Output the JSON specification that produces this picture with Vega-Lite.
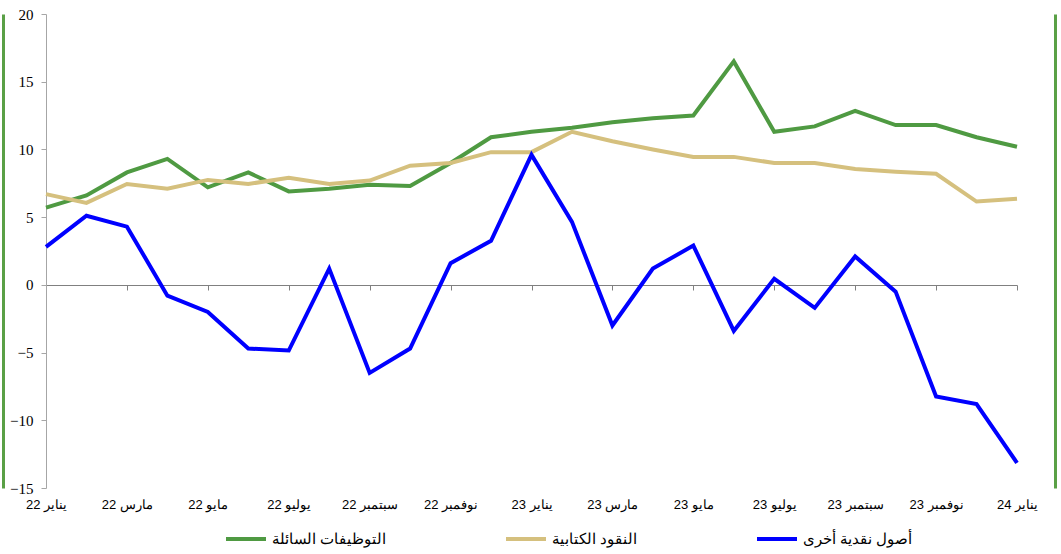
{
  "$schema": "https://vega.github.io/schema/vega-lite/v6.json",
  "width": 971,
  "height": 474,
  "autosize": {"type": "none"},
  "padding": {"left": 46, "top": 14, "right": 44, "bottom": 66},
  "background": "white",
  "config": {"view": {"stroke": null}, "font": "Liberation Serif"},
  "data": {
    "values": [
      {"i": 0, "m": "يناير 22", "التوظيفات السائلة": 5.7, "النقود الكتابية": 6.7, "أصول نقدية أخرى": 2.8},
      {"i": 1, "m": "فبراير 22", "التوظيفات السائلة": 6.6, "النقود الكتابية": 6.05, "أصول نقدية أخرى": 5.1},
      {"i": 2, "m": "مارس 22", "التوظيفات السائلة": 8.3, "النقود الكتابية": 7.45, "أصول نقدية أخرى": 4.3},
      {"i": 3, "m": "أبريل 22", "التوظيفات السائلة": 9.3, "النقود الكتابية": 7.1, "أصول نقدية أخرى": -0.8},
      {"i": 4, "m": "مايو 22", "التوظيفات السائلة": 7.2, "النقود الكتابية": 7.75, "أصول نقدية أخرى": -2.0},
      {"i": 5, "m": "يونيو 22", "التوظيفات السائلة": 8.3, "النقود الكتابية": 7.45, "أصول نقدية أخرى": -4.7},
      {"i": 6, "m": "يوليو 22", "التوظيفات السائلة": 6.9, "النقود الكتابية": 7.9, "أصول نقدية أخرى": -4.85},
      {"i": 7, "m": "أغسطس 22", "التوظيفات السائلة": 7.1, "النقود الكتابية": 7.45, "أصول نقدية أخرى": 1.2},
      {"i": 8, "m": "سبتمبر 22", "التوظيفات السائلة": 7.4, "النقود الكتابية": 7.7, "أصول نقدية أخرى": -6.5},
      {"i": 9, "m": "أكتوبر 22", "التوظيفات السائلة": 7.3, "النقود الكتابية": 8.8, "أصول نقدية أخرى": -4.7},
      {"i": 10, "m": "نوفمبر 22", "التوظيفات السائلة": 9.0, "النقود الكتابية": 9.0, "أصول نقدية أخرى": 1.6},
      {"i": 11, "m": "ديسمبر 22", "التوظيفات السائلة": 10.9, "النقود الكتابية": 9.8, "أصول نقدية أخرى": 3.25},
      {"i": 12, "m": "يناير 23", "التوظيفات السائلة": 11.3, "النقود الكتابية": 9.8, "أصول نقدية أخرى": 9.6},
      {"i": 13, "m": "فبراير 23", "التوظيفات السائلة": 11.6, "النقود الكتابية": 11.3, "أصول نقدية أخرى": 4.65},
      {"i": 14, "m": "مارس 23", "التوظيفات السائلة": 12.0, "النقود الكتابية": 10.6, "أصول نقدية أخرى": -3.0},
      {"i": 15, "m": "أبريل 23", "التوظيفات السائلة": 12.3, "النقود الكتابية": 10.0, "أصول نقدية أخرى": 1.2},
      {"i": 16, "m": "مايو 23", "التوظيفات السائلة": 12.5, "النقود الكتابية": 9.45, "أصول نقدية أخرى": 2.9},
      {"i": 17, "m": "يونيو 23", "التوظيفات السائلة": 16.5, "النقود الكتابية": 9.45, "أصول نقدية أخرى": -3.4},
      {"i": 18, "m": "يوليو 23", "التوظيفات السائلة": 11.3, "النقود الكتابية": 9.0, "أصول نقدية أخرى": 0.45},
      {"i": 19, "m": "أغسطس 23", "التوظيفات السائلة": 11.7, "النقود الكتابية": 9.0, "أصول نقدية أخرى": -1.7},
      {"i": 20, "m": "سبتمبر 23", "التوظيفات السائلة": 12.85, "النقود الكتابية": 8.55, "أصول نقدية أخرى": 2.1},
      {"i": 21, "m": "أكتوبر 23", "التوظيفات السائلة": 11.8, "النقود الكتابية": 8.35, "أصول نقدية أخرى": -0.5},
      {"i": 22, "m": "نوفمبر 23", "التوظيفات السائلة": 11.8, "النقود الكتابية": 8.2, "أصول نقدية أخرى": -8.25},
      {"i": 23, "m": "ديسمبر 23", "التوظيفات السائلة": 10.9, "النقود الكتابية": 6.15, "أصول نقدية أخرى": -8.8},
      {"i": 24, "m": "يناير 24", "التوظيفات السائلة": 10.2, "النقود الكتابية": 6.35, "أصول نقدية أخرى": -13.15}
    ]
  },
  "transform": [
    {"fold": ["التوظيفات السائلة", "النقود الكتابية", "أصول نقدية أخرى"], "as": ["series", "value"]}
  ],
  "encoding": {
    "x": {
      "field": "m",
      "type": "ordinal",
      "sort": {"field": "i", "op": "min"},
      "scale": {"padding": 0},
      "axis": {
        "title": null,
        "grid": false,
        "offset": -203,
        "values": ["يناير 22", "مارس 22", "مايو 22", "يوليو 22", "سبتمبر 22", "نوفمبر 22", "يناير 23", "مارس 23", "مايو 23", "يوليو 23", "سبتمبر 23", "نوفمبر 23", "يناير 24"],
        "domainColor": "#808080",
        "domainWidth": 1,
        "tickColor": "#808080",
        "tickSize": 5,
        "labelPadding": 208,
        "labelAngle": 0,
        "labelFont": "Liberation Sans",
        "labelFontSize": 13,
        "labelColor": "#000000",
        "labelOverlap": false
      }
    }
  },
  "layer": [
    {
      "mark": {"type": "line", "strokeOpacity": 0},
      "encoding": {
        "y": {
          "field": "value",
          "type": "quantitative",
          "scale": {"domain": [-15, 20], "nice": false, "zero": false},
          "axis": {
            "title": null, "grid": false, "orient": "left", "offset": 43,
            "domainColor": "#5aa046", "domainWidth": 3, "ticks": false, "labels": false
          }
        },
        "detail": {"field": "series", "type": "nominal"}
      }
    },
    {
      "mark": {"type": "line", "strokeOpacity": 0},
      "encoding": {
        "y": {
          "field": "value",
          "type": "quantitative",
          "scale": {"domain": [-15, 20], "nice": false, "zero": false},
          "axis": {
            "title": null, "grid": false, "orient": "right", "offset": 38,
            "domainColor": "#5aa046", "domainWidth": 3, "ticks": false, "labels": false
          }
        },
        "detail": {"field": "series", "type": "nominal"}
      }
    },
    {
      "mark": {"type": "line", "strokeWidth": 4},
      "encoding": {
        "y": {
          "field": "value",
          "type": "quantitative",
          "scale": {"domain": [-15, 20], "nice": false, "zero": false},
          "axis": {
            "title": null,
            "grid": false,
            "orient": "left",
            "values": [-15, -10, -5, 0, 5, 10, 15, 20],
            "domainColor": "#a6a6a6",
            "tickColor": "#a6a6a6",
            "tickSize": 5,
            "labelPadding": 8,
            "labelFont": "Liberation Serif",
            "labelFontSize": 15,
            "labelColor": "#000000"
          }
        },
        "strokeWidth": {
          "field": "series",
          "type": "nominal",
          "scale": {
            "domain": ["التوظيفات السائلة", "النقود الكتابية", "أصول نقدية أخرى"],
            "range": [4, 4, 4.6]
          },
          "legend": null
        },
        "color": {
          "field": "series",
          "type": "nominal",
          "scale": {
            "domain": ["التوظيفات السائلة", "النقود الكتابية", "أصول نقدية أخرى"],
            "range": ["#4f9a42", "#d5c07e", "#0000ff"]
          },
          "legend": {
            "title": null,
            "orient": "none",
            "legendX": 178,
            "legendY": 503,
            "direction": "horizontal",
            "symbolType": "stroke",
            "symbolSize": 1600,
            "symbolStrokeWidth": 4,
            "labelFont": "Liberation Serif",
            "labelFontSize": 15,
            "labelColor": "#000000",
            "columnPadding": 112
          }
        }
      }
    }
  ],
  "resolve": {"axis": {"y": "independent"}}
}
